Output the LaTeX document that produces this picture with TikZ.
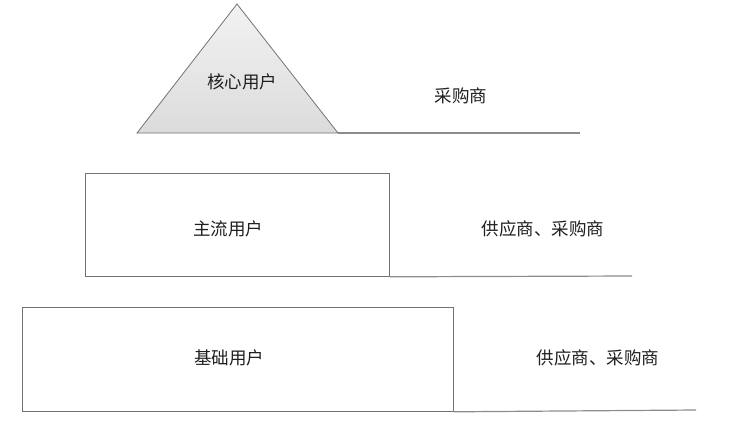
\documentclass[tikz,border=0pt]{standalone}
\usepackage{fontspec}
\newfontfamily\cjk{Noto Sans CJK SC}
\begin{document}
\begin{tikzpicture}[x=1pt,y=-1pt,
  lbl/.style={font=\cjk\fontsize{17.5}{19}\selectfont, text=black!88},
  boxst/.style={draw=black!55, line width=0.8pt, fill=white},
  baseline/.style={draw=black!45, line width=1.2pt}]
\useasboundingbox (0,0) rectangle (735,434);
% triangle
\coordinate (apex) at (237,4);
\coordinate (tl) at (137,133);
\coordinate (tr) at (338,133);
\coordinate (l1end) at (580,133);
\shade[top color=black!5, bottom color=black!14, draw=black!55, line width=0.8pt] (apex) -- (tr) -- (tl) -- cycle;
\draw[baseline] (tr) -- (l1end);
\node[lbl] (core) at (242,82) {核心用户};
\node[lbl] (buy1) at (461,96) {采购商};
% box 2
\node[boxst, minimum width=304pt, minimum height=103pt, anchor=north west, inner sep=0pt] (main) at (85,173) {};
\node[lbl] (mainlbl) at (228,229) {主流用户};
\coordinate (l2end) at (632,276);
\draw[baseline] (main.south east) -- (l2end);
\node[lbl] (sup2) at (543,229) {供应商、采购商};
% box 3
\node[boxst, minimum width=431pt, minimum height=104pt, anchor=north west, inner sep=0pt] (base) at (22,307) {};
\node[lbl] (baselbl) at (229,358) {基础用户};
\coordinate (l3end) at (696,410);
\draw[baseline] (base.south east) -- (l3end);
\node[lbl] (sup3) at (598,358) {供应商、采购商};
\end{tikzpicture}
\end{document}
